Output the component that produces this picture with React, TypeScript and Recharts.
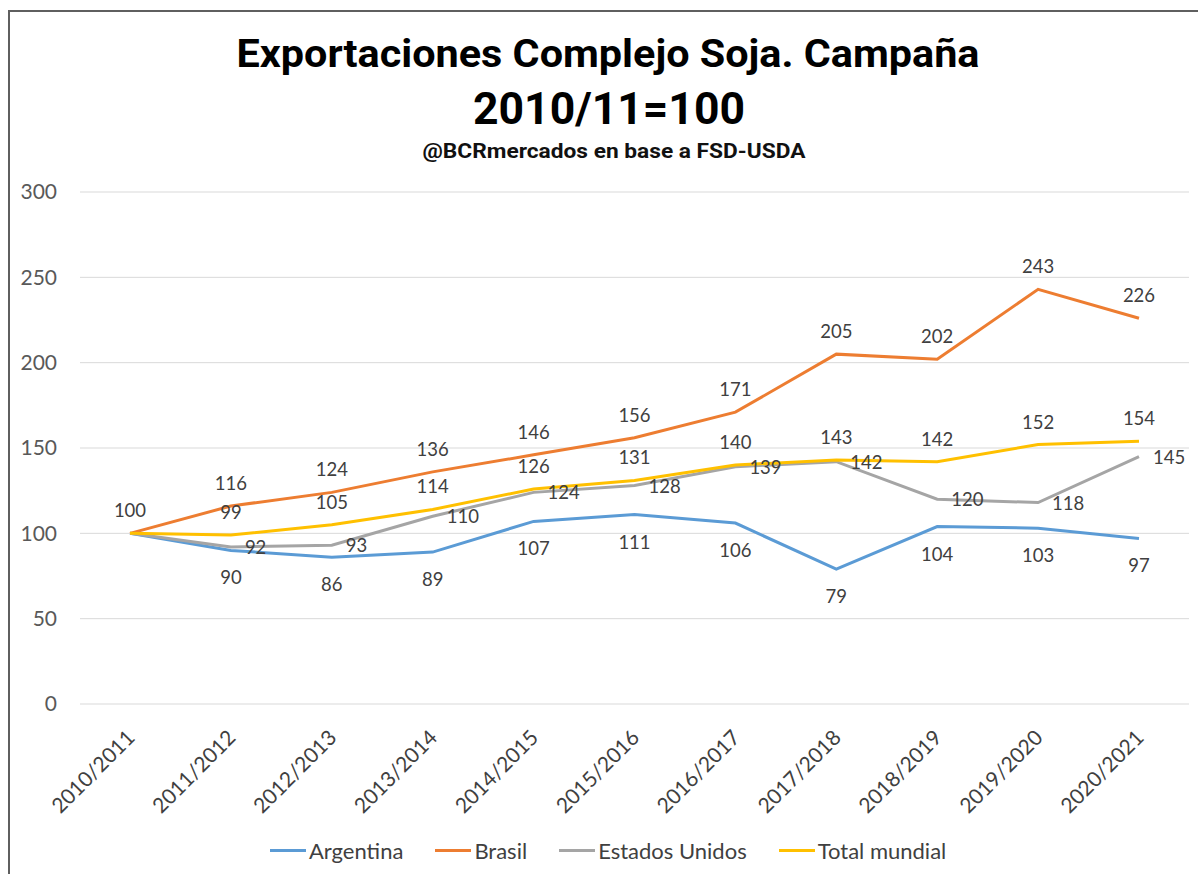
import React from 'react';
import { LineChart, Line, XAxis, YAxis, CartesianGrid, Legend } from 'recharts';

const campaigns = [
  '2010/2011', '2011/2012', '2012/2013', '2013/2014', '2014/2015', '2015/2016',
  '2016/2017', '2017/2018', '2018/2019', '2019/2020', '2020/2021',
];
const argentina = [100, 90, 86, 89, 107, 111, 106, 79, 104, 103, 97];
const brasil = [100, 116, 124, 136, 146, 156, 171, 205, 202, 243, 226];
const estadosUnidos = [100, 92, 93, 110, 124, 128, 139, 142, 120, 118, 145];
const totalMundial = [100, 99, 105, 114, 126, 131, 140, 143, 142, 152, 154];
const yTicks = [0, 50, 100, 150, 200, 250, 300];

const series = [
  { key: 'argentina', name: 'Argentina', color: '#5B9BD5', pos: 'below', skipFirst: true },
  { key: 'brasil', name: 'Brasil', color: '#ED7D31', pos: 'above', skipFirst: true },
  { key: 'eeuu', name: 'Estados Unidos', color: '#A5A5A5', pos: 'right', skipFirst: true },
  { key: 'total', name: 'Total mundial', color: '#FFC000', pos: 'above', skipFirst: false },
];

const data = campaigns.map((c, i) => ({
  campaign: c,
  argentina: argentina[i],
  brasil: brasil[i],
  eeuu: estadosUnidos[i],
  total: totalMundial[i],
}));

const W = 1198;
const H = 874;
const FONT = 'Lato, "Open Sans", sans-serif';

// data labels: Excel-style placement per series
const makeLabel = (pos: string, skipFirst: boolean) => (props: any) => {
  const { x, y, value, index } = props;
  if (skipFirst && index === 0) return null;
  let tx = x;
  let ty = y;
  let anchor = 'middle';
  if (pos === 'above') ty = y - 16;
  if (pos === 'below') ty = y + 34;
  if (pos === 'right') {
    tx = x + 14;
    ty = y + 7;
    anchor = 'start';
  }
  return (
    <text x={tx} y={ty} textAnchor={anchor} fontSize={18.5} fill="#404040" fontFamily={FONT}>
      {value}
    </text>
  );
};

const XTick = (props: any) => {
  const { x, y, payload } = props;
  return (
    <text
      transform={`translate(${x + 6},${y + 35}) rotate(-45)`}
      textAnchor="end"
      fontSize={21}
      fill="#404040"
      fontFamily={FONT}
    >
      {payload.value}
    </text>
  );
};

const LegendContent = () => (
  <div style={{ display: 'flex', paddingLeft: 270, fontFamily: FONT, fontSize: 22, color: '#404040' }}>
    {series.map((s) => (
      <div key={s.key} style={{ display: 'flex', alignItems: 'center', marginRight: 32 }}>
        <span style={{ display: 'inline-block', width: 36, height: 3, background: s.color, marginRight: 3 }} />
        <span>{s.name}</span>
      </div>
    ))}
  </div>
);

export default function App() {
  return (
    <div style={{ position: 'absolute', left: 0, top: 0, width: W, height: H, overflow: 'hidden', background: '#fff' }}>
      <div
        style={{
          position: 'absolute', left: 8, top: 10, width: W, height: H,
          borderLeft: '2px solid #5f5f5f', borderTop: '2px solid #5f5f5f',
        }}
      />
      <div style={{ position: 'absolute', left: 0, top: 0 }}>
        <LineChart width={W} height={H} data={data} margin={{ top: 192, right: 9, left: 0, bottom: 50 }}>
          <CartesianGrid vertical={false} stroke="#D9D9D9" />
          <XAxis
            dataKey="campaign"
            axisLine={false}
            tickLine={false}
            tickSize={0}
            tickMargin={0}
            height={120}
            interval={0}
            padding={{ left: 50, right: 50 }}
            tick={<XTick />}
          />
          <YAxis
            domain={[0, 300]}
            ticks={yTicks}
            axisLine={false}
            tickLine={false}
            tickSize={0}
            tickMargin={23}
            width={80}
            tick={{ fill: '#595959', fontSize: 21, fontFamily: FONT }}
          />
          <Legend
            verticalAlign="middle"
            align="center"
            wrapperStyle={{ top: 837, left: 0, width: W }}
            content={<LegendContent />}
          />
          {series.map((s) => (
            <Line
              key={s.key}
              type="linear"
              dataKey={s.key}
              name={s.name}
              stroke={s.color}
              strokeWidth={3}
              dot={false}
              activeDot={false}
              isAnimationActive={false}
              label={makeLabel(s.pos, s.skipFirst)}
            />
          ))}
        </LineChart>
      </div>
      <svg width={W} height={H} style={{ position: 'absolute', left: 0, top: 0, pointerEvents: 'none' }}>
        <text x={608} y={67} textAnchor="middle" fontFamily="Roboto, sans-serif" fontWeight={700} fontSize={39}
          textLength={743} lengthAdjust="spacingAndGlyphs" fill="#000">
          Exportaciones Complejo Soja. Campaña
        </text>
        <text x={609} y={124} textAnchor="middle" fontFamily="Roboto, sans-serif" fontWeight={700} fontSize={44}
          textLength={272} lengthAdjust="spacingAndGlyphs" fill="#000">
          2010/11=100
        </text>
        <text x={614} y={158} textAnchor="middle" fontFamily="Roboto, sans-serif" fontWeight={700} fontSize={21}
          textLength={383} lengthAdjust="spacingAndGlyphs" fill="#111">
          @BCRmercados en base a FSD-USDA
        </text>
      </svg>
    </div>
  );
}
